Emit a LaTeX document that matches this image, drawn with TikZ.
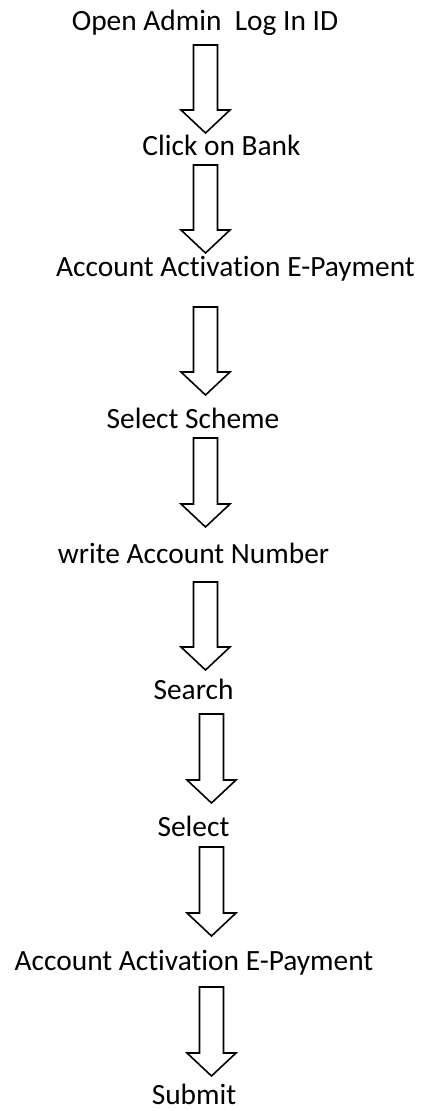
\documentclass[tikz,border=0pt]{standalone}
\usepackage{fontspec}
\setmainfont[Ligatures={NoCommon}]{Carlito}
\usetikzlibrary{calc}
\tikzset{
  label text/.style={font=\fontsize{29.4}{34}\selectfont, inner sep=0pt, anchor=base},
  fat arrow/.style={draw=black, line width=1.6pt, fill=white, line join=miter},
}
% block arrow from top-centre #1 down to tip #2
\newcommand\blockarrow[2]{%
  \draw[fat arrow] let \p1=(#1), \p2=(#2) in
    (\x2-12pt,\y1) -- (\x2+12pt,\y1) -- (\x2+12pt,\y2+23pt) -- (\x2+24.5pt,\y2+23pt)
    -- (\x2,\y2) -- (\x2-24.5pt,\y2+23pt) -- (\x2-12pt,\y2+23pt) -- cycle;}
\begin{document}
\begin{tikzpicture}[x=1pt,y=-1pt]
\useasboundingbox (0,0) rectangle (422,1111);
\node[label text] (s1) at (205,30) {Open Admin\ \ Log In ID};
\node[label text] (s2) at (221.5,155) {Click on Bank};
\node[label text] (s3) at (235.5,276) {Account Activation E-Payment};
\node[label text] (s4) at (193,428) {Select Scheme};
\node[label text] (s5) at (193.5,563) {write Account Number};
\node[label text] (s6) at (193.5,699) {Search};
\node[label text] (s7) at (193.5,836) {Select};
\node[label text] (s8) at (194,970) {Account Activation E-Payment};
\node[label text] (s9) at (194,1104) {Submit};

\coordinate (t1) at (205.5,45);  \coordinate (p1) at (205.5,133);
\coordinate (t2) at (205.5,165); \coordinate (p2) at (205.5,253);
\coordinate (t3) at (205.5,307); \coordinate (p3) at (205.5,395);
\coordinate (t4) at (205.5,438); \coordinate (p4) at (205.5,527);
\coordinate (t5) at (205.5,582); \coordinate (p5) at (205.5,670);
\coordinate (t6) at (211.5,714); \coordinate (p6) at (211.5,803);
\coordinate (t7) at (211.5,847); \coordinate (p7) at (211.5,936);
\coordinate (t8) at (211.5,987); \coordinate (p8) at (211.5,1076);

\foreach \i in {1,...,8} {\blockarrow{t\i}{p\i}}
\end{tikzpicture}
\end{document}
